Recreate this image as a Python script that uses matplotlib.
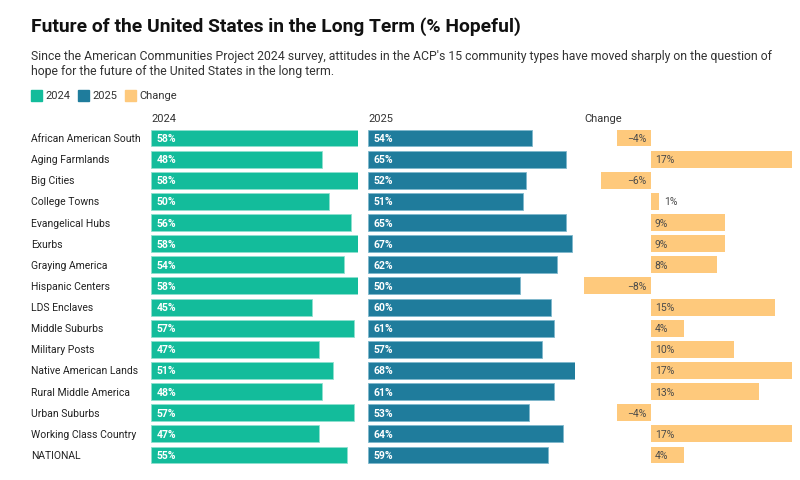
import matplotlib.pyplot as plt
from matplotlib.patches import Rectangle

plt.rcParams['font.family'] = ['Roboto', 'DejaVu Sans']

communities = ["African American South", "Aging Farmlands", "Big Cities", "College Towns",
               "Evangelical Hubs", "Exurbs", "Graying America", "Hispanic Centers",
               "LDS Enclaves", "Middle Suburbs", "Military Posts", "Native American Lands",
               "Rural Middle America", "Urban Suburbs", "Working Class Country", "NATIONAL"]
vals_2024 = [58, 48, 58, 50, 56, 58, 54, 58, 45, 57, 47, 51, 48, 57, 47, 55]
vals_2025 = [54, 65, 52, 51, 65, 67, 62, 50, 60, 61, 57, 68, 61, 53, 64, 59]
change = [-4, 17, -6, 1, 9, 9, 8, -8, 15, 4, 10, 17, 13, -4, 17, 4]

c2024 = "#13bc9b"
c2025 = "#1f7c9c"
cchg = "#fec97c"
text_dark = "#222222"

W, H = 800, 481
fig = plt.figure(figsize=(8, 4.81), dpi=100)


def fx(px):
    return px / W


def fy(py):
    return 1 - py / H


# title + subtitle
fig.text(fx(31), fy(27), "Future of the United States in the Long Term (% Hopeful)",
         fontsize=13.85, fontweight="bold", color="#111111", va="center")
fig.text(fx(31), fy(57), "Since the American Communities Project 2024 survey, attitudes in the ACP's 15 community types have moved sharply on the question of",
         fontsize=8.85, color="#333333", va="center")
fig.text(fx(31), fy(72), "hope for the future of the United States in the long term.",
         fontsize=8.85, color="#333333", va="center")

# legend
for x0, col, lab in [(31, c2024, "2024"), (78, c2025, "2025"), (125, cchg, "Change")]:
    fig.patches.append(Rectangle((fx(x0), fy(102)), 11 / W, 11 / H, transform=fig.transFigure,
                                 color=col, figure=fig))
    fig.text(fx(x0 + 14), fy(96), lab, fontsize=8, color="#333333", va="center")

# column headers
for x0, lab in [(151, "2024"), (368, "2025"), (584, "Change")]:
    fig.text(fx(x0), fy(119), lab, fontsize=8, color="#333333", va="center")

rows = len(communities)
top, bottom = 128.4, 466.6
n = list(range(rows))


def make_ax(x0, x1):
    ax = fig.add_axes([fx(x0), fy(bottom), (x1 - x0) / W, (bottom - top) / H])
    ax.set_ylim(rows - 0.5, -0.5)
    ax.axis("off")
    return ax


ax1 = make_ax(151, 358)
ax1.set_xlim(0, max(vals_2024))
ax1.barh(n, vals_2024, height=0.8, color=c2024, edgecolor="#8fe0cf", linewidth=0.6)
for i, v in enumerate(vals_2024):
    ax1.annotate(f"{v}%", (0, i), xytext=(4, 0), textcoords="offset points",
                 va="center", ha="left", fontsize=7.5, fontweight="bold", color="white")

ax2 = make_ax(368, 575)
ax2.set_xlim(0, max(vals_2025))
ax2.barh(n, vals_2025, height=0.8, color=c2025, edgecolor="#7fb8cc", linewidth=0.6)
for i, v in enumerate(vals_2025):
    ax2.annotate(f"{v}%", (0, i), xytext=(4, 0), textcoords="offset points",
                 va="center", ha="left", fontsize=7.5, fontweight="bold", color="white")

ax3 = make_ax(584, 792)
ax3.set_xlim(min(change), max(change))
ax3.barh(n, change, height=0.8, color=cchg)
for i, v in enumerate(change):
    lab = f"{v}%".replace("-", "\u2212")
    if v < 0:
        ax3.annotate(lab, (0, i), xytext=(-3, 0), textcoords="offset points",
                     va="center", ha="right", fontsize=7.5, color="#4a4a4a")
    elif v < 2:
        ax3.annotate(lab, (v, i), xytext=(4, 0), textcoords="offset points",
                     va="center", ha="left", fontsize=7.5, color="#4a4a4a")
    else:
        ax3.annotate(lab, (0, i), xytext=(3, 0), textcoords="offset points",
                     va="center", ha="left", fontsize=7.5, color="#4a4a4a")

# row labels
for i, name in enumerate(communities):
    fig.text(fx(31), fy(139 + i * 21.13), name, fontsize=7.5, color=text_dark, va="center")

fig.savefig("out.png", dpi=100, facecolor="white")
